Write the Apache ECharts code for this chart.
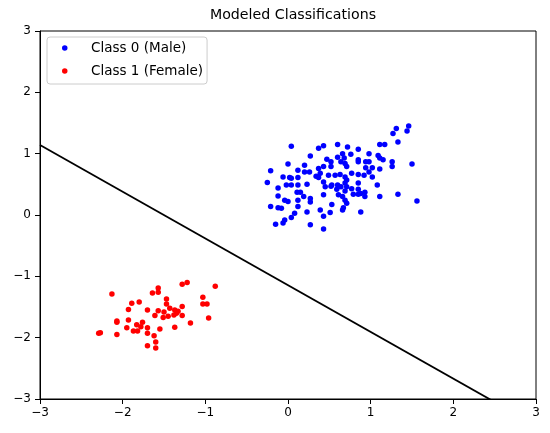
<!DOCTYPE html>
<html>
<head>
<meta charset="utf-8">
<script src="https://cdn.jsdelivr.net/npm/echarts@6/dist/echarts.min.js"></script>
<style>
html,body{margin:0;padding:0;background:#fff;}
#chart{width:550px;height:433px;}
</style>
</head>
<body>
<div id="chart"></div>
<script>
const chartTitle = 'Modeled Classifications';
const seriesNames = ['Class 0 (Male)', 'Class 1 (Female)'];
const axisTicks = [-3, -2, -1, 0, 1, 2, 3];

const class0X = [0.04,0.37,0.43,0.60,0.27,0.00,0.47,0.52,0.60,0.66,0.64,-0.21,0.12,0.20,0.20,0.26,0.37,0.43,0.52,0.39,0.34,0.37,0.49,0.57,0.63,-0.06,0.02,0.04,0.12,-0.25,-0.02,0.04,0.12,0.23,0.43,0.53,0.60,0.64,-0.12,0.11,0.15,0.19,0.45,0.43,0.52,0.59,-0.12,-0.04,0.00,0.12,0.27,0.27,0.61,0.66,-0.21,-0.12,-0.08,0.12,0.39,0.53,0.08,0.23,0.43,0.51,0.04,-0.04,-0.06,-0.15,0.27,0.43,0.66,
  1.46,1.31,1.27,1.44,1.33,1.11,1.17,0.72,0.85,0.98,1.09,1.11,0.68,0.76,0.85,0.85,0.94,0.98,1.15,1.26,1.26,1.50,0.69,0.71,0.94,1.02,1.11,0.77,0.85,0.92,0.98,1.02,0.69,0.71,0.69,0.85,1.08,0.71,0.77,0.85,0.69,0.79,0.85,0.88,0.93,0.93,1.11,1.33,1.56,0.69,0.71,0.67,0.88];
const class0Y = [1.12,1.09,1.13,1.15,0.96,0.83,0.91,0.87,0.94,1.00,0.87,0.72,0.73,0.81,0.70,0.70,0.76,0.79,0.79,0.68,0.63,0.61,0.65,0.65,0.66,0.62,0.61,0.60,0.61,0.53,0.49,0.49,0.49,0.50,0.54,0.49,0.49,0.46,0.44,0.37,0.37,0.30,0.46,0.33,0.47,0.42,0.31,0.24,0.22,0.24,0.27,0.21,0.33,0.30,0.14,0.12,0.11,0.14,0.08,0.17,0.03,0.05,-0.02,0.04,-0.04,-0.08,-0.13,-0.15,-0.16,-0.23,0.08,
  1.45,1.41,1.33,1.37,1.19,1.15,1.15,1.11,1.07,1.00,0.97,0.93,0.93,0.99,0.90,0.87,0.87,0.87,0.90,0.87,0.79,0.83,0.84,0.79,0.77,0.77,0.75,0.68,0.66,0.65,0.70,0.62,0.62,0.57,0.52,0.52,0.49,0.46,0.43,0.42,0.39,0.34,0.34,0.35,0.37,0.30,0.30,0.34,0.23,0.24,0.19,0.12,0.05];

const class1X = [-2.13,-1.57,-1.57,-1.64,-1.28,-1.22,-0.88,-1.89,-1.80,-1.93,-1.70,-1.47,-1.47,-1.57,-1.61,-1.50,-1.43,-1.37,-1.33,-1.28,-1.28,-1.51,-1.45,-1.38,-1.35,-1.03,-1.03,-0.98,-0.96,-2.07,-2.07,-1.93,-1.83,-1.76,-1.78,-1.95,-1.87,-1.82,-1.70,-1.70,-1.55,-1.37,-1.18,-2.07,-1.62,-1.60,-1.70,-1.60,-2.27,-2.29];
const class1Y = [-1.29,-1.19,-1.26,-1.27,-1.13,-1.10,-1.16,-1.44,-1.42,-1.54,-1.55,-1.37,-1.45,-1.56,-1.64,-1.58,-1.52,-1.55,-1.57,-1.49,-1.64,-1.67,-1.65,-1.63,-1.60,-1.34,-1.45,-1.45,-1.68,-1.73,-1.75,-1.71,-1.79,-1.75,-1.82,-1.84,-1.89,-1.89,-1.84,-1.93,-1.86,-1.83,-1.76,-1.95,-1.97,-2.07,-2.13,-2.17,-1.92,-1.93];

const boundaryX = [-3, 3];
const boundaryY = [1.14, -3.43];

const zip = (a, b) => a.map((v, i) => [v, b[i]]);
const fmt = v => String(v).replace('-', '\u2212');
const font = 'DejaVu Sans';

const axisCommon = {
  type: 'value', min: axisTicks[0], max: axisTicks[axisTicks.length - 1], interval: 1,
  splitLine: { show: false },
  axisLine: { show: true, onZero: false, lineStyle: { color: '#000', width: 1 } },
  axisTick: { show: true, inside: false, length: 5, lineStyle: { color: '#000', width: 1 } },
  axisLabel: { color: '#000', fontSize: 12, fontFamily: font, formatter: fmt }
};

const chart = echarts.init(document.getElementById('chart'), null, { renderer: 'canvas' });
chart.setOption({
  animation: false,
  backgroundColor: '#fff',
  title: {
    text: chartTitle, left: 288, top: 3, textAlign: 'center',
    textStyle: { fontFamily: font, fontSize: 14.2, fontWeight: 'normal', color: '#000' }
  },
  grid: { left: 40, right: 14, top: 31, bottom: 34, show: true, borderColor: '#000', borderWidth: 1, backgroundColor: 'transparent' },
  legend: {
    orient: 'vertical', left: 47, top: 37,
    data: seriesNames,
    icon: 'circle', itemWidth: 20, itemHeight: 5.5, itemGap: 7,
    padding: [3, 4, 5, 15],
    borderColor: '#cccccc', borderWidth: 1, borderRadius: 3,
    backgroundColor: 'rgba(255,255,255,0.8)',
    formatter: name => '  \u2009' + name,
    textStyle: { fontFamily: font, fontSize: 13.5, color: '#000', lineHeight: 16 }
  },
  xAxis: Object.assign({}, axisCommon, { axisLabel: Object.assign({}, axisCommon.axisLabel, { margin: 8 }) }),
  yAxis: Object.assign({}, axisCommon, { axisLabel: Object.assign({}, axisCommon.axisLabel, { margin: 9 }) }),
  series: [
    {
      name: seriesNames[0], type: 'scatter', data: zip(class0X, class0Y),
      symbol: 'circle', symbolSize: 5.5, itemStyle: { color: '#0000ff', opacity: 1 }, z: 3
    },
    {
      name: seriesNames[1], type: 'scatter', data: zip(class1X, class1Y),
      symbol: 'circle', symbolSize: 5.5, itemStyle: { color: '#ff0000', opacity: 1 }, z: 3
    },
    {
      name: 'boundary', type: 'line', data: zip(boundaryX, boundaryY),
      showSymbol: false, symbol: 'none', clip: true,
      lineStyle: { color: '#000', width: 1.8 }, z: 2
    }
  ]
});
</script>
</body>
</html>
